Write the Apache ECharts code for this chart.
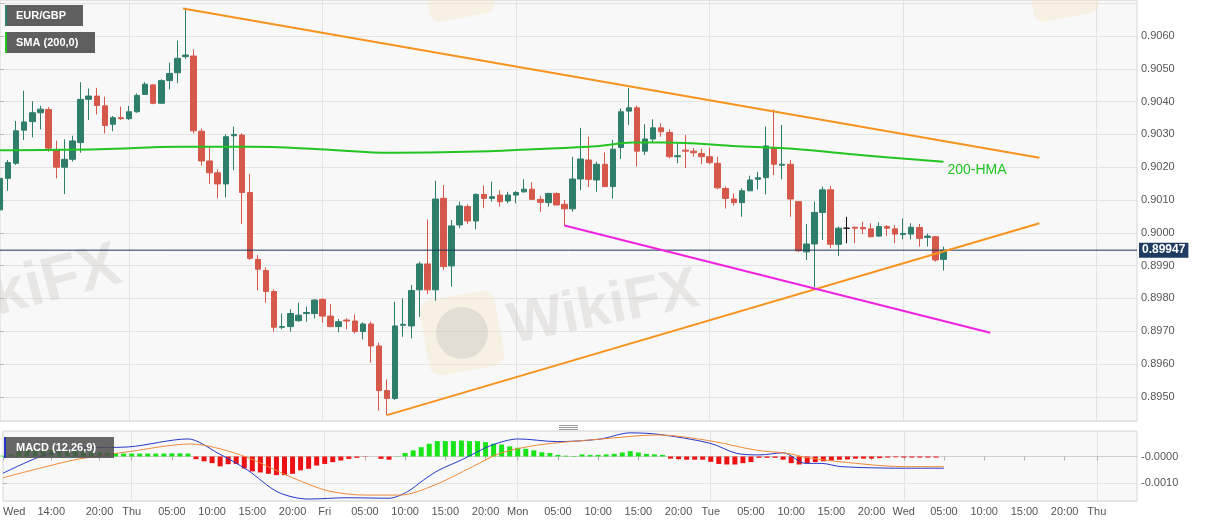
<!DOCTYPE html>
<html><head><meta charset="utf-8">
<script src="https://cdn.jsdelivr.net/npm/echarts@6/dist/echarts.min.js"></script>
<style>html,body{margin:0;padding:0;background:#fff;}#c{width:1207px;height:526px;}</style>
</head><body><div id="c"></div>
<script>
// ---------- data ----------
const dayNames = ['Wed','Thu','Fri','Mon','Tue','Wed','Thu'];
const dayFirstHour = [8,0,0,0,0,0,0];
const dayLastHour = [23,23,23,23,23,23,5];
const xTickIdx  = [0,6,12,16,21,26,31,36,40,45,50,55,60,64,69,74,79,84,88,93,98,103,108,112,117,122,127,132,136];
const xTickText = ['Wed','14:00','20:00','Thu','05:00','10:00','15:00','20:00','Fri','05:00','10:00','15:00','20:00','Mon','05:00','10:00','15:00','20:00','Tue','05:00','10:00','15:00','20:00','Wed','05:00','10:00','15:00','20:00','Thu'];
const dayLineIdx = [16,40,64,88,112,136];

// [open, close, low, high] hourly
const ohlc = [
[0.90070,0.90166,0.90041,0.90170],[0.90166,0.90214,0.90128,0.90222],[0.90212,0.90311,0.90207,0.90341],[0.90313,0.90338,0.90283,0.90433],
[0.90339,0.90366,0.90291,0.90401],[0.90366,0.90377,0.90315,0.90387],[0.90376,0.90258,0.90247,0.90383],[0.90254,0.90200,0.90166,0.90281],
[0.90200,0.90224,0.90118,0.90285],[0.90224,0.90280,0.90217,0.90296],[0.90275,0.90407,0.90244,0.90459],[0.90407,0.90417,0.90344,0.90440],
[0.90417,0.90388,0.90361,0.90442],[0.90387,0.90327,0.90303,0.90415],[0.90331,0.90351,0.90310,0.90356],[0.90351,0.90348,0.90344,0.90385],
[0.90348,0.90369,0.90344,0.90387],[0.90369,0.90419,0.90366,0.90425],[0.90422,0.90453,0.90420,0.90459],[0.90451,0.90395,0.90392,0.90453],
[0.90395,0.90464,0.90395,0.90468],[0.90464,0.90486,0.90437,0.90519],[0.90488,0.90532,0.90456,0.90586],[0.90537,0.90542,0.90530,0.90685],
[0.90539,0.90311,0.90303,0.90559],[0.90310,0.90219,0.90205,0.90318],[0.90219,0.90183,0.90149,0.90261],[0.90183,0.90149,0.90105,0.90193],
[0.90149,0.90293,0.90108,0.90300],[0.90296,0.90300,0.90191,0.90324],[0.90298,0.90123,0.90027,0.90303],[0.90123,0.89922,0.89917,0.90179],
[0.89919,0.89889,0.89824,0.89932],[0.89885,0.89821,0.89787,0.89895],[0.89821,0.89712,0.89699,0.89828],[0.89712,0.89714,0.89706,0.89754],
[0.89714,0.89754,0.89699,0.89767],[0.89732,0.89749,0.89729,0.89787],[0.89754,0.89757,0.89729,0.89775],[0.89754,0.89795,0.89739,0.89797],
[0.89797,0.89746,0.89726,0.89800],[0.89746,0.89714,0.89712,0.89783],[0.89714,0.89729,0.89697,0.89737],[0.89734,0.89731,0.89706,0.89739],
[0.89731,0.89699,0.89693,0.89751],[0.89699,0.89722,0.89675,0.89727],[0.89722,0.89655,0.89604,0.89729],[0.89655,0.89519,0.89458,0.89665],
[0.89519,0.89495,0.89444,0.89553],[0.89495,0.89716,0.89490,0.89790],[0.89718,0.89721,0.89683,0.89800],[0.89716,0.89824,0.89678,0.89841],
[0.89826,0.89905,0.89744,0.89912],[0.89905,0.89826,0.89813,0.90041],[0.89826,0.90103,0.89793,0.90159],[0.90105,0.89897,0.89887,0.90146],
[0.89899,0.90021,0.89836,0.90039],[0.90024,0.90082,0.90014,0.90095],[0.90080,0.90036,0.90027,0.90087],[0.90036,0.90117,0.90011,0.90120],
[0.90117,0.90105,0.90075,0.90144],[0.90105,0.90110,0.90095,0.90156],[0.90115,0.90095,0.90080,0.90130],[0.90097,0.90115,0.90090,0.90125],
[0.90115,0.90123,0.90090,0.90127],[0.90125,0.90133,0.90122,0.90163],[0.90133,0.90102,0.90100,0.90154],[0.90102,0.90093,0.90064,0.90113],
[0.90092,0.90120,0.90080,0.90122],[0.90120,0.90085,0.90083,0.90123],[0.90087,0.90073,0.90022,0.90100],[0.90073,0.90164,0.90064,0.90232],
[0.90164,0.90225,0.90130,0.90320],[0.90222,0.90163,0.90139,0.90293],[0.90161,0.90209,0.90125,0.90217],[0.90209,0.90141,0.90139,0.90245],
[0.90141,0.90255,0.90105,0.90283],[0.90260,0.90369,0.90225,0.90379],[0.90371,0.90381,0.90329,0.90442],[0.90381,0.90249,0.90202,0.90388],
[0.90249,0.90286,0.90237,0.90331],[0.90286,0.90320,0.90276,0.90346],[0.90320,0.90308,0.90293,0.90334],[0.90306,0.90232,0.90227,0.90316],
[0.90232,0.90235,0.90212,0.90273],[0.90252,0.90249,0.90197,0.90298],[0.90249,0.90244,0.90232,0.90259],[0.90242,0.90232,0.90209,0.90257],
[0.90232,0.90214,0.90209,0.90260],[0.90212,0.90137,0.90133,0.90232],[0.90135,0.90105,0.90074,0.90141],[0.90103,0.90092,0.90083,0.90120],
[0.90092,0.90128,0.90049,0.90136],[0.90128,0.90161,0.90128,0.90174],[0.90163,0.90168,0.90132,0.90186],[0.90168,0.90265,0.90117,0.90324],
[0.90260,0.90209,0.90176,0.90376],[0.90206,0.90209,0.90163,0.90329],[0.90209,0.90103,0.90049,0.90222],[0.90095,0.89945,0.89942,0.90095],
[0.89942,0.89966,0.89917,0.90027],[0.89966,0.90062,0.89835,0.90095],[0.90062,0.90131,0.89978,0.90141],[0.90131,0.89965,0.89953,0.90143],
[0.89965,0.90014,0.89929,0.90019],[0.90014,0.90014,0.89968,0.90049],[0.90017,0.90014,0.89968,0.90019],[0.90016,0.90012,0.89996,0.90034],
[0.90012,0.89988,0.89986,0.90029],[0.89990,0.90019,0.89988,0.90032],[0.90019,0.90014,0.89990,0.90024],[0.90012,0.89996,0.89968,0.90024],
[0.89995,0.89998,0.89980,0.90044],[0.89996,0.90017,0.89980,0.90029],[0.90016,0.89983,0.89958,0.90027],[0.89986,0.89990,0.89958,0.89998],
[0.89988,0.89917,0.89912,0.89990],[0.89919,0.89947,0.89885,0.89958]
];
const lastPrice = 0.89947;

// [hour index, price]
const hma200 = [[0,0.90252],[12.4,0.90255],[22.3,0.90262],[31,0.90262],[39.6,0.90255],[48.7,0.90244],[57.8,0.90247],[66,0.90255],[74.3,0.90265],[78.4,0.90275],[82.6,0.90275],[90.8,0.90265],[99,0.90255],[105.3,0.90240],[117,0.90217]];
const upperTrend = [[22.7,0.90684],[128.9,0.90229]];
const lowerTrend = [[48,0.89444],[128.9,0.90029]];
const pinkTrend  = [[70,0.90022],[122.8,0.89695]];

// MACD panel
const macdLine = [[0,-0.00063],[4.7,0.0],[9.5,0.00032],[15.6,0.00036],[23,0.00066],[26.7,0.00013],[30.4,-0.00051],[34.2,-0.00134],[38,-0.0016],[42.8,-0.00155],[48,-0.00157],[50.3,-0.00132],[52.3,-0.00088],[54.2,-0.00051],[57,-0.00013],[60.8,0.00043],[64.1,0.00066],[68.9,0.00056],[74.1,0.00065],[78,0.00089],[81.6,0.00083],[87.9,0.0005],[91.2,0.00012],[94.1,0.00006],[97,0.00014],[99.8,-0.00026],[101.8,-0.00026],[104.2,-0.00038],[111.9,-0.00044],[117,-0.00044]];
const signalLine = [[0,-0.0008],[4.7,-0.00043],[9.5,-0.00009],[15.6,0.00018],[23.3,0.00047],[29.5,0.00006],[36.1,-0.00081],[40.4,-0.00129],[45.1,-0.00145],[49.4,-0.00145],[53.7,-0.00107],[58.4,-0.00038],[61.8,0.00012],[66.5,0.00043],[74.1,0.00065],[81.6,0.00081],[87.9,0.00059],[93.6,0.00024],[97.5,0.00012],[99.8,-0.00003],[104.2,-0.0002],[111.9,-0.00038],[117,-0.00038]];
const histogram = [
0.00003,0.00008,0.00020,0.00024,0.00025,0.00026,0.00025,0.00024,0.00023,0.00022,0.00020,0.00018,0.00016,0.00014,
0.00012,0.00011,0.00011,0.00011,0.00011,0.00011,0.00011,0.00012,0.00012,0.00011,
-0.00010,-0.00018,-0.00025,-0.00037,-0.00029,-0.00028,-0.00045,-0.00056,-0.00060,-0.00065,-0.00070,-0.00070,-0.00065,
-0.00052,-0.00046,-0.00034,-0.00028,-0.00021,-0.00015,-0.00009,-0.00005,-0.00001,0.00000,-0.00009,-0.00012,0.00001,
0.00013,0.00023,0.00035,0.00048,0.00058,0.00058,0.00058,0.00060,0.00058,0.00058,0.00054,0.00048,0.00045,0.00038,
0.00033,0.00029,0.00023,0.00016,0.00013,0.00006,0.00003,0.00002,0.00008,0.00006,0.00006,
0.00008,0.00010,0.00015,0.00020,0.00015,0.00010,0.00008,0.00006,
-0.00008,-0.00010,-0.00012,-0.00012,-0.00012,-0.00020,-0.00028,-0.00030,-0.00030,-0.00025,-0.00021,
-0.00005,-0.00005,-0.00005,-0.00012,-0.00025,-0.00030,-0.00025,-0.00021,-0.00018,-0.00015,-0.00012,-0.00011,
-0.00008,-0.00008,-0.00008,-0.00006,-0.00004,-0.00003,-0.00004,-0.00004,-0.00004,-0.00004,-0.00004
];

// ---------- build ----------
const categories = [];
dayNames.forEach((d, k) => {
  for (let h = dayFirstHour[k]; h <= dayLastHour[k]; h++) {
    categories.push(d + k + ' ' + String(h).padStart(2, '0') + ':00');
  }
});
const tickMap = {};
xTickIdx.forEach((idx, k) => { tickMap[idx] = xTickText[k]; });
const isTick = (i) => tickMap[i] !== undefined;
const isDay = (i) => dayLineIdx.indexOf(i) >= 0;
const maxIdx = categories.length - 1;

const FONT = '"Liberation Sans", Arial, sans-serif';
const GRID_BG = '#f8f8f8';
const SPLIT = '#e3e3e3';
const UP = '#2f7d6b', DOWN = '#d6584a';

const chart = echarts.init(document.getElementById('c'), null, {renderer: 'canvas'});

const onThousandth = (v) => Math.abs(v * 1000 - Math.round(v * 1000)) < 1e-6;

const option = {
  animation: false,
  backgroundColor: '#ffffff',
  textStyle: {fontFamily: FONT},
  grid: [
    {left: 0, top: 0, width: 1137, height: 421, show: true, backgroundColor: GRID_BG, borderColor: '#d6d6d6', borderWidth: 1},
    {left: 0, top: 431, width: 1137, height: 70, show: true, backgroundColor: GRID_BG, borderColor: '#d6d6d6', borderWidth: 1}
  ],
  xAxis: [
    {type: 'category', gridIndex: 0, data: categories, boundaryGap: false,
     axisLine: {show: false}, axisTick: {show: false}, axisLabel: {show: false},
     splitLine: {show: true, interval: (i) => isDay(i), lineStyle: {color: SPLIT}}},
    {type: 'value', gridIndex: 0, min: 0, max: maxIdx, show: false},
    {type: 'category', gridIndex: 1, data: categories, boundaryGap: false,
     axisLine: {show: true, lineStyle: {color: '#cfcfcf'}},
     axisTick: {show: true, interval: (i) => isTick(i), length: 4, lineStyle: {color: '#b0b0b0'}},
     axisLabel: {show: true, interval: (i) => isTick(i), formatter: (v, i) => tickMap[i] || '',
       color: '#555', fontSize: 11, fontFamily: FONT, margin: 5, alignMinLabel: 'left'},
     splitLine: {show: true, interval: (i) => isDay(i), lineStyle: {color: SPLIT}}},
    {type: 'value', gridIndex: 1, min: 0, max: maxIdx, show: false}
  ],
  yAxis: [
    {type: 'value', gridIndex: 0, position: 'right', min: 0.894262, max: 0.907098, splitNumber: 12,
     axisLine: {show: false},
     axisTick: {show: true, length: 4, lineStyle: {color: '#b8b8b8'}},
     axisLabel: {show: true, showMinLabel: false, showMaxLabel: false, color: '#555', fontSize: 11, fontFamily: FONT, margin: 4,
       formatter: (v) => (onThousandth(v) && v < 0.9065) ? v.toFixed(4) : ''},
     splitLine: {show: true, lineStyle: {color: SPLIT}}},
    {type: 'value', gridIndex: 1, position: 'right', min: -0.001673, max: 0.000959, splitNumber: 3,
     axisLine: {show: false},
     axisTick: {show: true, length: 4, lineStyle: {color: '#b8b8b8'}},
     axisLabel: {show: true, showMinLabel: false, showMaxLabel: false, color: '#555', fontSize: 11, fontFamily: FONT, margin: 4,
       formatter: (v) => (onThousandth(v) && v < 0.0005) ? '-' + Math.abs(v).toFixed(4) : ''},
     splitLine: {show: true, lineStyle: {color: SPLIT}}}
  ],
  series: [
    {type: 'candlestick', xAxisIndex: 0, yAxisIndex: 0, data: ohlc, barWidth: 6, z: 3,
     itemStyle: {color: UP, color0: DOWN, borderColor: UP, borderColor0: DOWN, borderColorDoji: '#111', borderWidth: 1}},
    {type: 'line', xAxisIndex: 1, yAxisIndex: 0, data: [[0, lastPrice], [maxIdx, lastPrice]], showSymbol: false, z: 4,
     lineStyle: {color: '#1e3658', width: 1},
     endLabel: {show: true, formatter: lastPrice.toFixed(5), color: '#fff', fontWeight: 'bold',
       fontSize: 12, fontFamily: FONT, backgroundColor: '#1f3b61', padding: [2, 3, 1, 3], distance: 2}},
    {type: 'line', xAxisIndex: 1, yAxisIndex: 0, data: hma200, smooth: 0.4, showSymbol: false, z: 4,
     lineStyle: {color: '#22c422', width: 2},
     endLabel: {show: true, formatter: '200-HMA', color: '#22c422', fontSize: 14, fontFamily: FONT, offset: [-4, 9]}},
    {type: 'line', xAxisIndex: 1, yAxisIndex: 0, data: upperTrend, showSymbol: false, z: 5,
     lineStyle: {color: '#f7931e', width: 2}},
    {type: 'line', xAxisIndex: 1, yAxisIndex: 0, data: lowerTrend, showSymbol: false, z: 5,
     lineStyle: {color: '#f7931e', width: 2}},
    {type: 'line', xAxisIndex: 1, yAxisIndex: 0, data: pinkTrend, showSymbol: false, z: 5,
     lineStyle: {color: '#ee22e0', width: 2}},
    {type: 'bar', xAxisIndex: 2, yAxisIndex: 1, data: histogram, barWidth: 5, z: 3,
     itemStyle: {color: (p) => p.value >= 0 ? '#18e418' : '#ee1111'}},
    {type: 'line', xAxisIndex: 3, yAxisIndex: 1, data: macdLine, smooth: 0.3, showSymbol: false, z: 4,
     lineStyle: {color: '#2437c8', width: 1}},
    {type: 'line', xAxisIndex: 3, yAxisIndex: 1, data: signalLine, smooth: 0.3, showSymbol: false, z: 4,
     lineStyle: {color: '#f08a3a', width: 1}}
  ],
  graphic: [
    // watermarks
    {type: 'text', x: -72, y: 348, rotation: 0.26, z: 1, silent: true,
     style: {text: 'WikiFX', font: 'bold 62px ' + FONT, fill: 'rgba(200,190,190,0.32)', verticalAlign: 'bottom'}},
    {type: 'rect', x: 462, y: 333, rotation: 0.18, z: 1, silent: true,
     shape: {x: -38, y: -38, width: 76, height: 76, r: 12}, style: {fill: 'rgba(245,228,190,0.35)'}},
    {type: 'circle', x: 462, y: 333, z: 1, silent: true, shape: {r: 26}, style: {fill: 'rgba(150,150,150,0.2)'}},
    {type: 'text', x: 515, y: 356, rotation: 0.2, z: 1, silent: true,
     style: {text: 'WikiFX', font: 'bold 58px ' + FONT, fill: 'rgba(200,190,190,0.32)', verticalAlign: 'bottom'}},
    {type: 'rect', x: 458, y: -15, rotation: 0.18, z: 1, silent: true,
     shape: {x: -33, y: -33, width: 66, height: 66, r: 10}, style: {fill: 'rgba(245,228,190,0.35)'}},
    {type: 'rect', x: 1062, y: -15, rotation: 0.18, z: 1, silent: true,
     shape: {x: -33, y: -33, width: 66, height: 66, r: 10}, style: {fill: 'rgba(245,228,190,0.35)'}},
    // legend tags
    {type: 'rect', left: 5, top: 5, z: 20, shape: {width: 78, height: 21}, style: {fill: 'rgba(78,78,78,0.9)'}},
    {type: 'rect', left: 5, top: 5, z: 21, shape: {width: 2, height: 21}, style: {fill: '#2f7d6b'}},
    {type: 'text', left: 16, top: 10, z: 22, style: {text: 'EUR/GBP', fill: '#fff', font: 'bold 11px ' + FONT}},
    {type: 'rect', left: 5, top: 32, z: 20, shape: {width: 90, height: 21}, style: {fill: 'rgba(78,78,78,0.9)'}},
    {type: 'rect', left: 5, top: 32, z: 21, shape: {width: 2, height: 21}, style: {fill: '#22c422'}},
    {type: 'text', left: 16, top: 37, z: 22, style: {text: 'SMA (200,0)', fill: '#fff', font: 'bold 11px ' + FONT}},
    {type: 'rect', left: 4, top: 437, z: 20, shape: {width: 110, height: 21}, style: {fill: 'rgba(78,78,78,0.85)'}},
    {type: 'rect', left: 4, top: 437, z: 21, shape: {width: 2, height: 21}, style: {fill: '#2437c8'}},
    {type: 'text', left: 16, top: 442, z: 22, style: {text: 'MACD (12,26,9)', fill: '#fff', font: 'bold 11px ' + FONT}},
    // panel resize handle
    {type: 'line', z: 20, shape: {x1: 559, y1: 425.5, x2: 578, y2: 425.5}, style: {stroke: '#999', lineWidth: 1}},
    {type: 'line', z: 20, shape: {x1: 559, y1: 427.5, x2: 578, y2: 427.5}, style: {stroke: '#999', lineWidth: 1}},
    {type: 'line', z: 20, shape: {x1: 559, y1: 429.5, x2: 578, y2: 429.5}, style: {stroke: '#999', lineWidth: 1}}
  ]
};
chart.setOption(option);
</script>
</body></html>
